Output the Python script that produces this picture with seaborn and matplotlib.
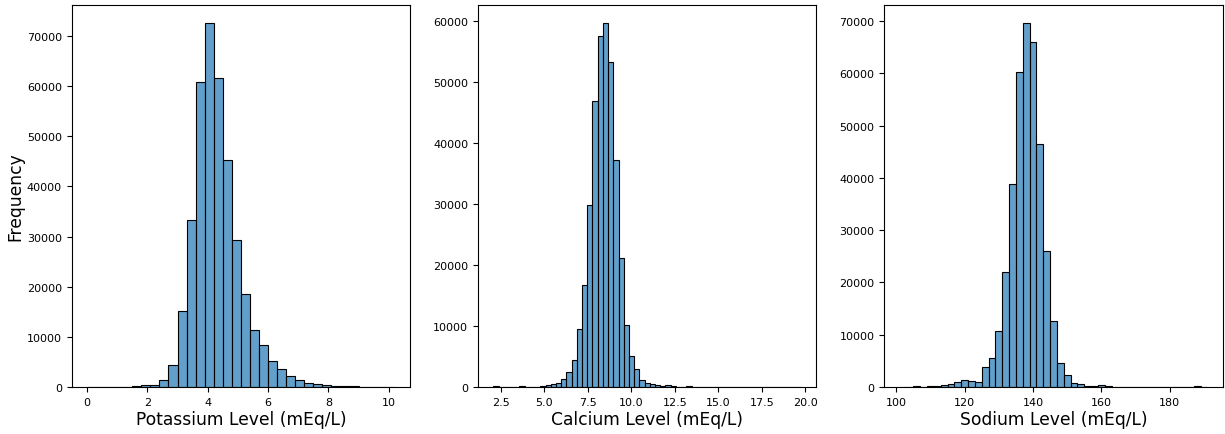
import numpy as np
import pandas as pd
import matplotlib
matplotlib.use("Agg")
import matplotlib.pyplot as plt
import seaborn as sns

# ---- Data (bin counts) ----
potassium_start, potassium_width = 0.0, 0.3
potassium_counts = [30, 20, 20, 30, 100, 150, 330, 400, 1390, 4380,
                    15200, 33200, 60760, 72500, 61550, 45150, 29280, 18460, 11350, 8370,
                    5180, 3650, 2120, 1390, 800, 530, 400, 130, 270, 200,
                    60, 50, 100, 40]

calcium_start, calcium_width = 2.06, 0.3
calcium_counts = [150, 50, 50, 50, 50, 150, 50, 60, 60, 150,
                  300, 440, 600, 1330, 2430, 4450, 9510, 16780, 29840, 46890,
                  57540, 59670, 53280, 37270, 21150, 10110, 5080, 2900, 1180, 660,
                  550, 300, 220, 250, 110, 60, 50, 110, 50, 30,
                  30, 30, 30, 20, 20, 20, 20, 20, 20, 20,
                  20, 20, 20, 20, 20, 20, 20, 20, 20]

sodium_start, sodium_width = 101.0, 2.0
sodium_counts = [30, 50, 130, 80, 130, 190, 380, 640, 890, 1340,
                 1080, 960, 3820, 5600, 10700, 21970, 38730, 60320, 69550, 65920,
                 46560, 25920, 12550, 4590, 2360, 760, 510, 250, 250, 320,
                 130, 80, 80, 80, 80, 20, 20, 20, 20, 20,
                 20, 20, 20, 100, 20]

labels = ["Potassium Level (mEq/L)", "Calcium Level (mEq/L)", "Sodium Level (mEq/L)"]

plt.rcParams['font.family'] = ['DejaVu Sans']

fig = plt.figure(figsize=(12.25, 4.35), dpi=100)
positions = [[0.0585, 0.108, 0.2763, 0.878],
             [0.3902, 0.108, 0.2763, 0.878],
             [0.7219, 0.108, 0.2763, 0.878]]

series = [(potassium_start, potassium_width, potassium_counts),
          (calcium_start, calcium_width, calcium_counts),
          (sodium_start, sodium_width, sodium_counts)]

for i, ((start, width, counts), label) in enumerate(zip(series, labels)):
    ax = fig.add_axes(positions[i])
    n = len(counts)
    centers = start + width * (np.arange(n) + 0.5)
    df = pd.DataFrame({"value": centers, "count": counts})
    sns.histplot(data=df, x="value", weights="count",
                 binwidth=width, binrange=(start, start + n * width),
                 color="#1f77b4", alpha=0.7, edgecolor="black", linewidth=0.8, ax=ax)
    ax.set_xlabel(label, fontsize=12.3, labelpad=2)
    if i == 0:
        ax.set_ylabel("Frequency", fontsize=12.3, labelpad=2)
    else:
        ax.set_ylabel("")
    ax.tick_params(labelsize=8, length=3.5, width=0.8)

fig.savefig("out.png", dpi=100)
